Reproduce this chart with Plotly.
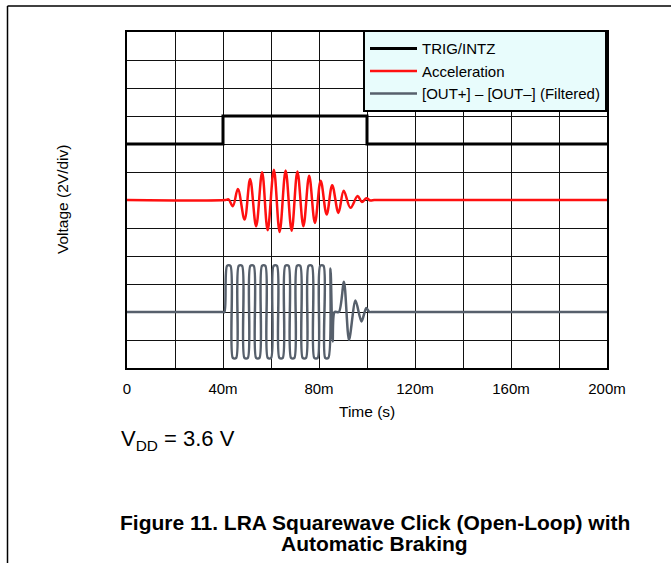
import plotly.graph_objects as go

# ---- data (time in ms, voltage in scope divisions, 2 V/div) ----
trig_t = [0, 40, 40, 100, 100, 200]
trig_v = [8, 8, 9, 9, 8, 8]

accel_t = [0, 41.0, 42.3, 44.1, 46.2, 49.0, 51.3, 53.8, 56.3, 58.6, 61.2, 63.6,
           66.1, 68.6, 71.0, 73.5, 75.9, 78.3, 80.7, 83.2, 85.5, 88.1, 90.3,
           93.1, 96.1, 97.9, 99.8, 101.4, 103.0, 105.0, 200]
accel_v = [6.0, 6.0, 6.02, 5.78, 6.39, 5.30, 6.75, 5.06, 6.99, 4.92, 7.08, 4.86,
           7.05, 4.90, 7.02, 5.06, 6.87, 5.18, 6.69, 5.48, 6.53, 5.54, 6.33,
           5.72, 6.14, 5.93, 6.06, 5.98, 6.0, 6.0, 6.0]

out_t = [0, 39.8, 40.6, 41.7, 43.1, 44.1, 45.5, 46.55, 47.95, 48.95, 50.35,
         51.4, 52.8, 53.8, 55.2, 56.25, 57.65, 58.65, 60.05, 61.1, 62.5, 63.5,
         64.9, 65.95, 67.35, 68.35, 69.75, 70.8, 72.2, 73.2, 74.6, 75.65, 77.05,
         78.05, 79.45, 80.5, 81.9, 82.6, 83.9, 84.8, 85.7, 86.5, 88.3, 90.4,
         92.5, 95.2, 97.7, 99.7, 101.0, 102.0, 103.5, 200]
out_v = [2.0, 2.0, 2.0, 3.65, 3.65, 0.36, 0.36, 3.65, 3.65, 0.36, 0.36,
         3.65, 3.65, 0.36, 0.36, 3.65, 3.65, 0.36, 0.36, 3.65, 3.65, 0.36,
         0.36, 3.65, 3.65, 0.36, 0.36, 3.65, 3.65, 0.36, 0.36, 3.65, 3.65,
         0.36, 0.36, 3.65, 3.65, 0.36, 0.36, 3.55, 0.95, 2.0, 2.0, 3.08,
         1.0, 2.41, 1.66, 2.14, 2.0, 2.0, 2.0, 2.0]

x_tickvals = [0, 40, 80, 120, 160, 200]
x_ticktext = ["0", "40m", "80m", "120m", "160m", "200m"]
x_minorvals = [20, 60, 100, 140, 180]

FONT = "Liberation Sans, Arial, sans-serif"

fig = go.Figure()
fig.add_trace(go.Scatter(x=trig_t, y=trig_v, mode="lines", name="TRIG/INTZ",
                         line=dict(color="black", width=3)))
fig.add_trace(go.Scatter(x=accel_t, y=accel_v, mode="lines", name="Acceleration",
                         line=dict(color="#ff1010", width=2.5, shape="spline", smoothing=1)))
fig.add_trace(go.Scatter(x=out_t, y=out_v, mode="lines",
                         name="[OUT+] \u2013 [OUT\u2013] (Filtered)",
                         line=dict(color="#57606c", width=2.5, shape="spline", smoothing=0.8)))

L, R, T, B = 127, 64, 32, 195
W, H = 671, 563
pw, ph = W - L - R, H - T - B

def px(x):
    return (x - L) / pw

def py(y):
    return (H - B - y) / ph

fig.update_layout(
    width=W, height=H,
    margin=dict(l=L, r=R, t=T, b=B),
    paper_bgcolor="white", plot_bgcolor="white",
    font=dict(family=FONT, color="black", size=15),
    showlegend=True,
    legend=dict(x=1, xanchor="right", y=1.005, yanchor="top",
                bgcolor="#e8fcfc", bordercolor="black", borderwidth=2,
                font=dict(size=15, family=FONT), tracegroupgap=0, itemwidth=47),
    xaxis=dict(range=[0, 200], tickvals=x_tickvals, ticktext=x_ticktext,
               showgrid=True, gridcolor="#111111", gridwidth=1,
               minor=dict(tickvals=x_minorvals, showgrid=True,
                          gridcolor="#111111", gridwidth=1, ticks=""),
               showline=True, linecolor="black", linewidth=2, mirror=True,
               zeroline=False, ticks="outside", ticklen=6,
               tickcolor="rgba(0,0,0,0)", tickfont=dict(size=15)),
    yaxis=dict(range=[0, 12], dtick=1, showticklabels=False,
               showgrid=True, gridcolor="#111111", gridwidth=1,
               showline=True, linecolor="black", linewidth=2, mirror=True,
               zeroline=False, ticks=""),
    annotations=[
        dict(text="Time (s)", x=px(367), y=py(411), xref="paper", yref="paper",
             xanchor="center", yanchor="middle", showarrow=False,
             font=dict(size=15.5)),
        dict(text="Voltage (2V/div)", x=px(62), y=0.5, xref="paper", yref="paper",
             xanchor="center", yanchor="middle", showarrow=False, textangle=-90,
             font=dict(size=15.5)),
        dict(text="V<sub>DD</sub> = 3.6 V", x=px(119), y=py(440), xref="paper",
             yref="paper", xanchor="left", yanchor="middle", showarrow=False,
             font=dict(size=22)),
        dict(text="<b>Figure 11. LRA Squarewave Click (Open-Loop) with</b>",
             x=px(375), y=py(522), xref="paper", yref="paper",
             xanchor="center", yanchor="middle", showarrow=False,
             font=dict(size=21)),
        dict(text="<b>Automatic Braking</b>",
             x=px(374), y=py(543), xref="paper", yref="paper",
             xanchor="center", yanchor="middle", showarrow=False,
             font=dict(size=21)),
    ],
    shapes=[
        dict(type="line", xref="paper", yref="paper", x0=px(7.5), x1=px(671),
             y0=py(6), y1=py(6), line=dict(color="black", width=1.5)),
        dict(type="line", xref="paper", yref="paper", x0=px(7.5), x1=px(7.5),
             y0=py(6), y1=py(563), line=dict(color="black", width=1.5)),
    ],
)

fig.write_html("out.html", config={"displayModeBar": False},
               post_script="document.body.style.margin='0';document.body.style.padding='0';")
